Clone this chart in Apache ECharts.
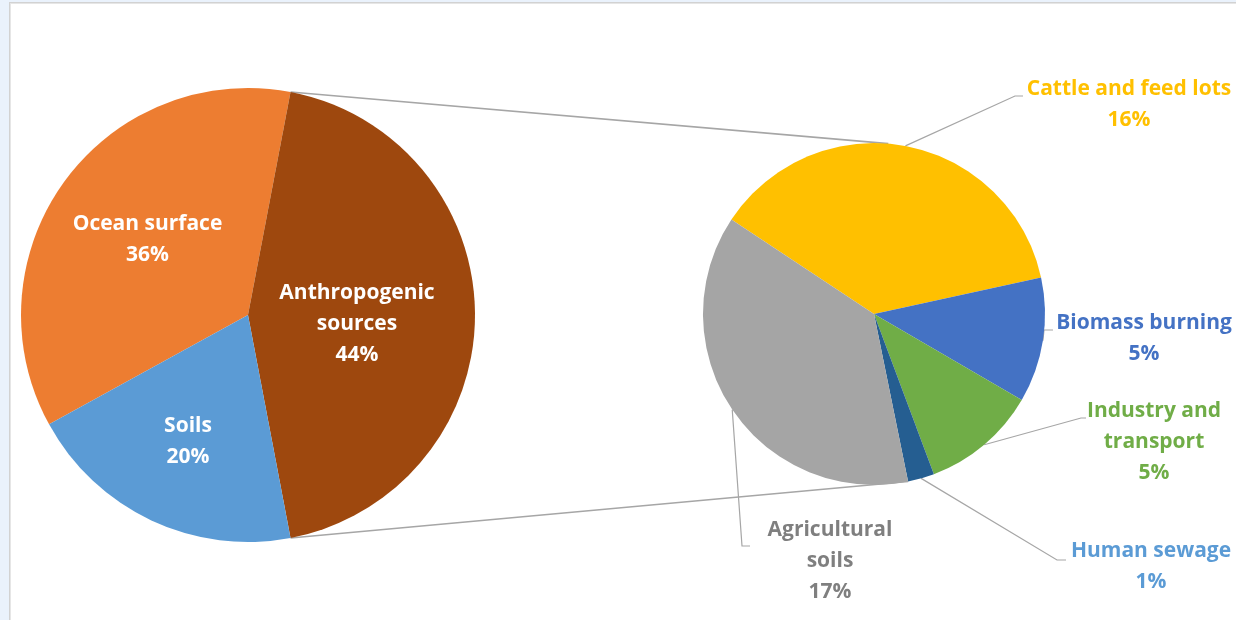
<!DOCTYPE html>
<html><head><meta charset="utf-8">
<script src="https://cdn.jsdelivr.net/npm/echarts@6/dist/echarts.min.js"></script>
<style>
html,body{margin:0;padding:0;width:1236px;height:620px;overflow:hidden;background:#eaf2fc;}
#frame{position:absolute;left:9px;top:2px;width:1300px;height:700px;background:#fff;border:1px solid #d2d2d2;box-shadow:inset 1px 1px 0 #e6e6e6;}
#chart{position:absolute;left:0;top:0;width:1236px;height:620px;}
</style></head><body>
<div id="frame"></div><div id="chart"></div>
<script>
// ---- data ----
const mainCategories = ['Ocean surface', 'Anthropogenic\nsources', 'Soils'];
const mainValues = [36, 44, 20];
const detailCategories = ['Cattle and feed lots', 'Biomass burning', 'Industry and\ntransport', 'Human sewage', 'Agricultural\nsoils'];
const detailValues = [16.4, 5.2, 4.8, 1.1, 16.5];
const splitIndex = 1; // main slice expanded into the detail pie

// ---- style ----
const mainColors = ['#ED7D31', '#9E480E', '#5B9BD5'];
const detailColors = ['#FFC000', '#4472C4', '#70AD47', '#255E91', '#A5A5A5'];
const detailLabelColors = ['#FFC000', '#4472C4', '#70AD47', '#5B9BD5', '#7F7F7F'];
const FONT = '"Open Sans", Lato, sans-serif';
const FONT_SIZE = 21;
const mainGeo = { cx: 248, cy: 315, r: 227 };
const detailGeo = { cx: 874, cy: 314, r: 171, start: 146.5 };
// label placement (block centres) and leader-line elbows
const mainLabelPos = [[147.5, 240], [357, 324], [188, 442]];
const detailLabelPos = [[1129, 105], [1144, 339], [1154, 442], [1151, 567], [830, 561]];
const detailLeader = [
  [[1015, 96], [1023, 96]],
  [[1044, 330], [1053, 330]],
  [[1081, 418], [1086, 418]],
  [[1057, 560], [1066, 560]],
  [[742, 546], [750, 546]]
];
const connectorTopAngle = 85.2;

const mainSum = mainValues.reduce((a, b) => a + b, 0);
const detailSum = detailValues.reduce((a, b) => a + b, 0);
let before = 0;
for (let i = 0; i < splitIndex; i++) before += mainValues[i];
const mainStart = (before + mainValues[splitIndex] / 2) / mainSum * 360;

const pct = v => Math.round(v / mainSum * 100) + '%';

const chart = echarts.init(document.getElementById('chart'), null, { renderer: 'canvas' });

const mainData = mainCategories.map((n, i) => ({
  name: n, value: mainValues[i], itemStyle: { color: mainColors[i] }
}));
const detailData = detailCategories.map((n, i) => ({
  name: n, value: detailValues[i], itemStyle: { color: detailColors[i] },
  label: { color: detailLabelColors[i] }
}));

// connector lines derived from the data angles
function pt(geo, deg) {
  const a = deg * Math.PI / 180;
  return [geo.cx + geo.r * Math.cos(a), geo.cy - geo.r * Math.sin(a)];
}
const splitStartDeg = mainStart - before / mainSum * 360;
const splitEndDeg = splitStartDeg - mainValues[splitIndex] / mainSum * 360;
let dBefore = 0;
for (let i = 0; i < detailValues.length - 1; i++) dBefore += detailValues[i];
const detailBottomDeg = detailGeo.start - dBefore / detailSum * 360;
const p1 = pt(mainGeo, splitStartDeg), p2 = pt(detailGeo, connectorTopAngle);
const p3 = pt(mainGeo, splitEndDeg), p4 = pt(detailGeo, detailBottomDeg);

chart.setOption({
  animation: false,
  backgroundColor: 'transparent',
  textStyle: { fontFamily: FONT },
  series: [
    {
      type: 'pie',
      center: [mainGeo.cx, mainGeo.cy],
      radius: mainGeo.r,
      startAngle: mainStart,
      clockwise: true,
      avoidLabelOverlap: false,
      silent: true,
      data: mainData,
      label: {
        position: 'inside',
        formatter: p => p.name + '\n' + pct(p.value),
        color: '#fff', fontFamily: FONT, fontWeight: 'bold', fontSize: FONT_SIZE, lineHeight: 31
      },
      labelLine: { show: false },
      labelLayout: p => ({
        x: mainLabelPos[p.dataIndex][0], y: mainLabelPos[p.dataIndex][1],
        align: 'center', verticalAlign: 'middle'
      })
    },
    {
      type: 'pie',
      center: [detailGeo.cx, detailGeo.cy],
      radius: detailGeo.r,
      startAngle: detailGeo.start,
      clockwise: true,
      avoidLabelOverlap: false,
      silent: true,
      data: detailData,
      label: {
        position: 'outside',
        formatter: p => p.name + '\n' + pct(p.value),
        fontFamily: FONT, fontWeight: 'bold', fontSize: FONT_SIZE, lineHeight: 31, align: 'center'
      },
      labelLine: { show: true, length: 20, length2: 10, smooth: false, lineStyle: { color: '#A6A6A6', width: 1.2 } },
      labelLayout: p => {
        const i = p.dataIndex;
        const start = p.labelLinePoints ? p.labelLinePoints[0] : pt(detailGeo, 0);
        return {
          x: detailLabelPos[i][0], y: detailLabelPos[i][1],
          align: 'center', verticalAlign: 'middle',
          labelLinePoints: [start, detailLeader[i][0], detailLeader[i][1]]
        };
      }
    }
  ],
  graphic: [
    { type: 'line', silent: true, shape: { x1: p1[0], y1: p1[1], x2: p2[0], y2: p2[1] }, style: { stroke: '#A6A6A6', lineWidth: 1.6 } },
    { type: 'line', silent: true, shape: { x1: p3[0], y1: p3[1], x2: p4[0], y2: p4[1] }, style: { stroke: '#A6A6A6', lineWidth: 1.6 } }
  ]
});
</script>
</body></html>
